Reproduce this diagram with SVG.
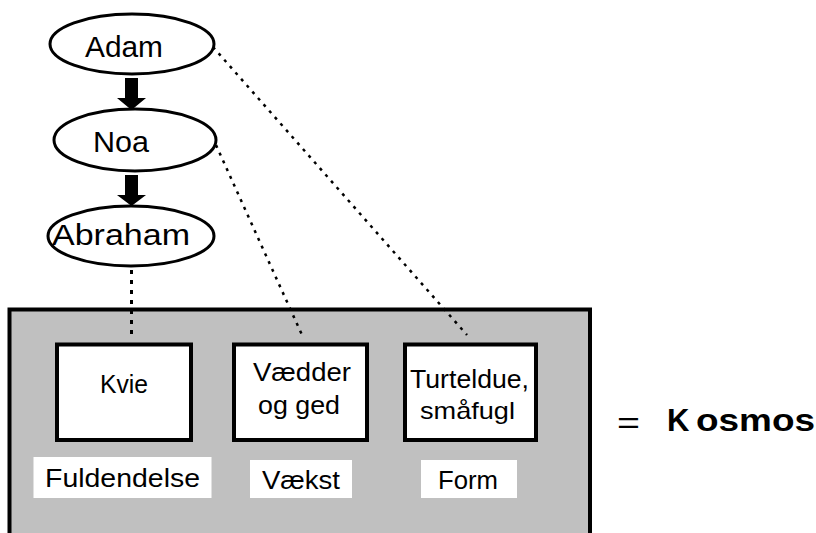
<svg xmlns="http://www.w3.org/2000/svg" width="816" height="533" viewBox="0 0 816 533">
<style>
.ell{fill:#fff;stroke:#000;stroke-width:3}
.box{fill:#fff;stroke:#000;stroke-width:4}
.panel{fill:#c0c0c0;stroke:#000;stroke-width:4}
.lab{fill:#fff;stroke:none}
.t{font-family:"Liberation Sans",Arial,sans-serif;fill:#000}
.big{font-size:30px}
.mid{font-size:26px}
.sm{font-size:24px}
.kos{font-size:31px;font-weight:bold}
.eq{font-size:30px}
.dot{fill:none;stroke:#000;stroke-width:2.5;stroke-dasharray:3 5.5}
.dotv{fill:none;stroke:#000;stroke-width:3;stroke-dasharray:4 6}
.arr{fill:#000;stroke:none}
</style>
<rect width="816" height="533" fill="#fff"/>
<g id="kosmos-panel">
<rect class="panel" x="9.5" y="309.5" width="580.5" height="250"/>
</g>
<g id="connectors">
<polygon class="arr" points="125,78 138,78 138,98 146,98 131.5,110 117,98 125,98"/>
<polygon class="arr" points="125,175 138,175 138,195 146,195 131.5,206 117,195 125,195"/>
<line class="dotv" x1="131.5" y1="270" x2="131.5" y2="337"/>
<line class="dot" x1="216" y1="145" x2="302" y2="335"/>
<line class="dot" x1="213" y1="47" x2="467" y2="335"/>
</g>
<g id="adam">
<ellipse class="ell" cx="132" cy="44" rx="82" ry="30"/>
<text class="t big" x="85" y="57" textLength="78" lengthAdjust="spacingAndGlyphs">Adam</text>
</g>
<g id="noa">
<ellipse class="ell" cx="135" cy="140" rx="81" ry="31"/>
<text class="t big" x="93" y="152" textLength="56" lengthAdjust="spacingAndGlyphs">Noa</text>
</g>
<g id="abraham">
<ellipse class="ell" cx="131" cy="236" rx="83" ry="30"/>
<text class="t big" x="52" y="245" textLength="138" lengthAdjust="spacingAndGlyphs">Abraham</text>
</g>
<g id="kvie">
<rect class="box" x="57" y="344.5" width="134" height="95.5"/>
<text class="t mid" x="100" y="393" textLength="48" lengthAdjust="spacingAndGlyphs">Kvie</text>
</g>
<g id="vaedder">
<rect class="box" x="234" y="344.5" width="133" height="95.5"/>
<text class="t mid" x="253" y="381" textLength="98" lengthAdjust="spacingAndGlyphs">Vædder</text>
<text class="t mid" x="258" y="414" textLength="82" lengthAdjust="spacingAndGlyphs">og ged</text>
</g>
<g id="turteldue">
<rect class="box" x="405" y="344.5" width="131" height="95.5"/>
<text class="t mid" x="410" y="388" textLength="119" lengthAdjust="spacingAndGlyphs">Turteldue,</text>
<text class="t sm" x="420" y="419" textLength="95" lengthAdjust="spacingAndGlyphs">småfugl</text>
</g>
<g id="fuldendelse">
<rect class="lab" x="33.5" y="457" width="178" height="41"/>
<text class="t mid" x="45" y="487" textLength="155" lengthAdjust="spacingAndGlyphs">Fuldendelse</text>
</g>
<g id="vaekst">
<rect class="lab" x="250" y="460" width="102" height="38"/>
<text class="t mid" x="262" y="489" textLength="78" lengthAdjust="spacingAndGlyphs">Vækst</text>
</g>
<g id="form">
<rect class="lab" x="421" y="460" width="96" height="38"/>
<text class="t mid" x="438" y="489" textLength="60" lengthAdjust="spacingAndGlyphs">Form</text>
</g>
<g id="kosmos">
<text class="t eq" x="617" y="433" textLength="23" lengthAdjust="spacingAndGlyphs">=</text>
<text class="t kos" y="431"><tspan x="667">K</tspan><tspan x="696" textLength="119" lengthAdjust="spacingAndGlyphs">osmos</tspan></text>
</g>
</svg>
